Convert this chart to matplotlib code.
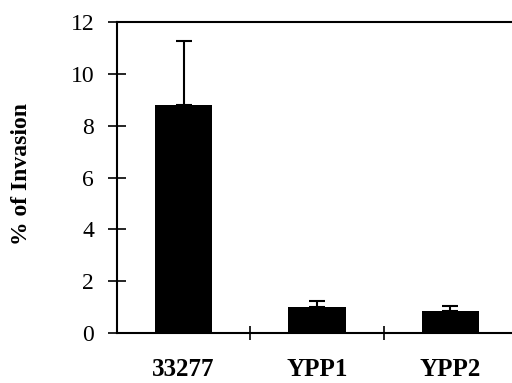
import matplotlib
matplotlib.use("Agg")
import matplotlib.pyplot as plt
import numpy as np

categories = ["33277", "YPP1", "YPP2"]
values = [8.8, 1.0, 0.83]
errors = [2.45, 0.22, 0.22]
yticks = [0, 2, 4, 6, 8, 10, 12]

plt.rcParams['font.family'] = ['Liberation Serif', 'DejaVu Serif']

fig = plt.figure(figsize=(5.12, 3.83), dpi=100)
ax = fig.add_axes([117/512, 1 - 333/383, 400/512, (333 - 22)/383])

x = np.arange(len(categories))
ax.bar(x, values, width=0.43, color='black', zorder=2)
ax.errorbar(x, values, yerr=[np.zeros(len(errors)), errors], fmt='none',
            ecolor='black', elinewidth=1.5, capsize=5.5, capthick=1.5, zorder=1)

ax.set_xlim(-0.5, 2.5)
ax.set_ylim(0, 12)
ax.set_yticks(yticks)
ax.set_yticklabels([str(t) for t in yticks], fontsize=17)
ax.tick_params(axis='y', direction='inout', length=13, width=1.2, pad=10)

ax.set_xticks(x)
ax.set_xticklabels(categories, fontsize=18, fontweight='bold')
ax.tick_params(axis='x', which='major', length=0, pad=18)
ax.set_xticks([0.5, 1.5], minor=True)
ax.tick_params(axis='x', which='minor', direction='inout', length=10, width=1.2)

for s in ['left', 'bottom', 'top']:
    ax.spines[s].set_linewidth(1.5)
ax.spines['right'].set_visible(False)

ax.set_ylabel('% of Invasion', fontsize=17, fontweight='bold')
ax.yaxis.label.set_verticalalignment('center')
ax.yaxis.set_label_coords((22 - 117) / 400, (333 - 174) / 311)

fig.savefig('out.png', dpi=100)
